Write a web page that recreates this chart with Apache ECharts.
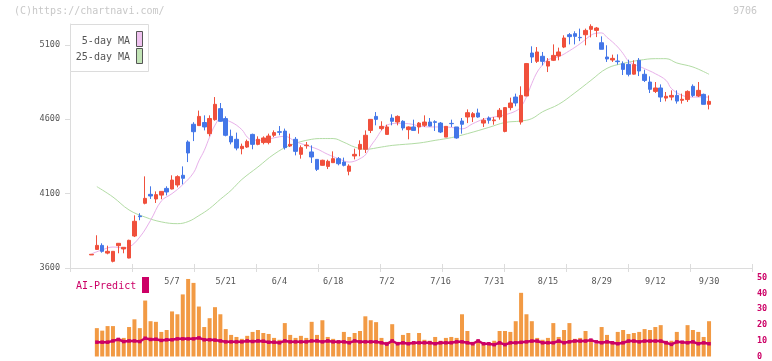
<!DOCTYPE html>
<html><head><meta charset="utf-8">
<script src="https://cdn.jsdelivr.net/npm/echarts@6/dist/echarts.min.js"></script>
<style>html,body{margin:0;padding:0;background:#fff}#c{width:772px;height:361px}</style>
</head><body><div id="c"></div>
<script>
// ---- data (candle index 0 .. 115) ----
const tickLabels = ['5/7','5/21','6/4','6/18','7/2','7/16','7/31','8/15','8/29','9/12','9/30'];
const tickCandles = [15,25,35,45,55,65,75,85,95,105,115];
// [open, close, low, high]
const candles = [
[3688,3692,3688,3692],[3725,3752,3722,3820],[3752,3712,3703,3766],[3700,3712,3692,3750],[3645,3712,3638,3712],
[3750,3766,3699,3768],[3728,3739,3699,3740],[3667,3786,3665,3790],[3815,3914,3808,3954],[3950,3945,3921,3968],
[4035,4068,4028,4216],[4095,4084,4064,4149],[4064,4093,4037,4115],[4090,4115,4062,4117],[4135,4111,4088,4149],
[4131,4191,4128,4223],[4158,4214,4142,4223],[4223,4203,4162,4283],[4447,4373,4312,4458],[4566,4516,4453,4580],
[4557,4619,4555,4658],[4578,4548,4525,4626],[4503,4605,4485,4626],[4597,4700,4590,4749],[4671,4586,4583,4709],
[4604,4492,4485,4619],[4485,4447,4431,4530],[4465,4406,4391,4510],[4402,4418,4364,4436],[4413,4451,4407,4463],
[4498,4431,4398,4503],[4431,4465,4425,4485],[4443,4474,4431,4485],[4443,4487,4431,4503],[4492,4510,4480,4525],
[4516,4512,4492,4554],[4520,4409,4396,4537],[4420,4431,4413,4503],[4465,4384,4357,4480],[4364,4409,4335,4424],
[4422,4426,4402,4447],[4380,4346,4306,4424],[4330,4263,4252,4330],[4290,4324,4288,4328],[4283,4317,4265,4328],
[4308,4335,4308,4384],[4335,4301,4290,4346],[4312,4290,4283,4342],[4250,4285,4223,4297],[4353,4364,4330,4402],
[4398,4431,4351,4458],[4398,4492,4373,4525],[4525,4599,4507,4600],[4619,4599,4559,4648],[4537,4552,4525,4586],
[4498,4548,4498,4563],[4608,4586,4559,4633],[4581,4619,4559,4626],[4586,4541,4525,4593],[4530,4548,4465,4552],
[4548,4525,4525,4597],[4548,4574,4503,4581],[4559,4581,4548,4626],[4581,4554,4552,4608],[4583,4579,4521,4593],
[4574,4514,4507,4581],[4480,4552,4480,4552],[4572,4570,4548,4597],[4548,4474,4469,4548],[4588,4566,4503,4608],
[4615,4644,4574,4666],[4615,4637,4581,4648],[4642,4615,4610,4671],[4574,4593,4548,4608],[4608,4593,4570,4619],
[4590,4595,4563,4615],[4615,4660,4597,4675],[4518,4678,4512,4680],[4678,4709,4660,4745],[4749,4709,4687,4772],
[4581,4760,4564,4821],[4756,4974,4756,4978],[5045,5018,4978,5090],[4989,5052,4978,5085],[5023,4989,4962,5052],
[4957,4989,4917,5011],[4996,5029,4991,5103],[5025,5052,4996,5081],[5085,5146,5078,5164],[5168,5155,5103,5179],
[5175,5157,5103,5191],[5150,5148,5125,5209],[5168,5197,5097,5209],[5204,5224,5150,5238],[5197,5213,5152,5220],
[5114,5070,5070,5157],[5018,5005,4985,5097],[4998,5009,4985,5034],[4991,4987,4967,5036],[4973,4935,4897,4989],
[4969,4902,4888,5000],[4903,4967,4900,4996],[4996,4924,4890,5011],[4902,4861,4850,4933],[4850,4801,4776,4888],
[4787,4810,4776,4850],[4810,4749,4716,4834],[4742,4754,4720,4783],[4749,4760,4727,4794],[4760,4722,4705,4794],
[4727,4734,4705,4772],[4732,4787,4716,4794],[4821,4760,4749,4834],[4756,4794,4749,4850],[4767,4700,4700,4772],
[4700,4720,4666,4760]
];
// [candle index, value]
const ma5 = [[0,3695],[2,3722],[4,3741],[6,3735],[7,3741],[9,3808],[11,3920],[13,4050],[15,4100],[17,4160],[19,4240],[20,4320],[21,4390],[22,4480],[23,4560],[24,4600],[26,4581],[28,4530],[29,4480],[30,4460],[32,4458],[34,4475],[36,4485],[38,4450],[40,4424],[42,4400],[44,4364],[46,4335],[48,4312],[49,4318],[50,4335],[51,4360],[52,4420],[53,4470],[54,4525],[55,4560],[57,4572],[59,4570],[61,4555],[63,4548],[65,4548],[67,4545],[69,4535],[71,4570],[73,4600],[75,4615],[77,4630],[79,4655],[80,4685],[81,4750],[82,4840],[83,4917],[84,4965],[85,5000],[87,5020],[89,5060],[91,5108],[93,5164],[94,5178],[95,5180],[96,5150],[97,5120],[98,5085],[99,5041],[100,4990],[101,4970],[103,4940],[105,4906],[107,4861],[108,4806],[110,4760],[112,4749],[115,4749]];
const ma25 = [[1,4147],[4,4077],[7,3990],[10,3942],[13,3910],[16,3898],[18,3912],[20,3952],[22,4000],[24,4062],[26,4122],[28,4195],[31,4279],[34,4365],[37,4425],[41,4465],[43,4470],[45,4470],[47,4445],[49,4413],[51,4398],[54,4413],[56,4424],[61,4440],[64,4458],[67,4476],[70,4503],[74,4545],[77,4578],[80,4588],[82,4604],[84,4650],[87,4700],[90,4777],[93,4861],[96,4942],[99,4975],[102,4996],[105,5007],[107,5007],[109,4978],[112,4951],[115,4902]];
const volume = [null,18.0,16.4,19.3,19.3,11.8,11.8,18.7,23.6,18.0,35.5,22.4,22.0,15.6,16.8,28.6,26.8,39.4,49.2,46.7,31.7,18.7,24.3,31.3,26.8,17.4,13.7,12.4,11.2,13.1,15.6,16.8,14.9,14.3,11.8,10.6,21.2,13.7,11.8,13.1,11.8,22.0,13.7,23.0,12.4,11.2,9.3,15.6,12.4,14.9,16.2,25.5,23.0,21.8,11.8,9.3,20.5,9.3,13.7,14.9,8.7,14.9,10.6,10.0,12.4,10.0,11.8,12.4,11.8,26.8,16.2,9.3,10.6,8.7,7.5,10.0,16.2,16.2,15.6,22.4,40.4,26.8,22.4,11.8,10.6,11.8,21.2,12.4,16.8,21.2,11.2,11.8,16.2,10.0,8.1,18.7,13.7,8.7,15.6,16.8,14.3,14.9,15.6,17.4,16.8,18.7,19.9,10.0,10.0,15.6,8.1,19.9,16.8,15.6,12.4,22.4];
const aiPredict = [null,9.1,9.1,9.1,9.9,10.8,9.5,9.9,9.9,9.5,11.6,10.8,11.0,10.2,10.6,10.6,11.2,11.2,11.2,11.2,11.8,10.6,10.6,10.4,9.9,9.3,9.3,9.3,9.3,9.9,9.5,9.9,9.7,9.1,9.1,8.7,9.9,9.3,9.3,9.3,9.3,9.9,9.9,9.3,9.9,9.3,9.3,9.3,8.7,9.9,9.3,9.3,9.3,9.3,8.7,7.9,9.9,8.1,8.7,8.1,8.7,8.7,8.7,8.7,8.1,8.7,8.7,8.7,9.3,9.3,8.7,8.1,9.9,8.1,8.1,7.5,8.7,7.5,8.7,8.7,9.0,9.3,9.8,9.8,8.7,8.7,8.7,9.8,8.7,9.3,9.8,9.8,9.8,10.4,9.3,8.7,9.3,8.7,8.1,8.7,9.8,9.8,9.3,9.8,9.8,9.8,9.8,8.7,7.7,9.3,9.1,8.7,9.3,8.1,8.7,8.1];
const yTicks = [3600,4100,4600,5100];
const volTicks = [0,10,20,30,40,50];

// ---- layout helpers ----
const LEAD = 4, SLOTS = 128;
const categories = [];
for (let k = 0; k < SLOTS; k++) {
  const t = tickCandles.indexOf(k - LEAD);
  categories.push(t >= 0 ? tickLabels[t] : 's' + k);
}
const labelSlots = tickCandles.map(c => c + LEAD);

const candleData = candles.map((c, i) => [i + LEAD, c[0], c[1], c[2], c[3]]);
const pairs = arr => arr.map(p => [p[0] + LEAD, p[1]]);
const seq = arr => arr.map((v, i) => [i + LEAD, v]).filter(p => p[1] != null);

const UP = '#f0503c', DOWN = '#4477e8', AXIS = '#dcdcdc', TXT = '#555', CRIM = '#cc0066';
const MONO = '"DejaVu Sans Mono", monospace';

const chart = echarts.init(document.getElementById('c'), null, {renderer: 'canvas'});
chart.setOption({
  animation: false,
  backgroundColor: '#fff',
  grid: [
    {left: 70, top: 24, width: 682, height: 244},
    {left: 70, top: 277.7, width: 682, height: 80.3}
  ],
  xAxis: [
    {type: 'category', gridIndex: 0, position: 'bottom', data: categories, boundaryGap: false,
     axisLine: {lineStyle: {color: AXIS, width: 1}}, axisTick: {show: false},
     axisLabel: {interval: (idx) => labelSlots.indexOf(idx) >= 0, formatter: v => v.indexOf('/') > 0 ? v : '',
       color: TXT, fontSize: 8.5, fontFamily: MONO, margin: 9},
     splitLine: {show: false}},
    {type: 'value', gridIndex: 0, position: 'bottom', min: 0, max: 11, interval: 1, offset: -4,
     axisLine: {show: false}, axisTick: {show: true, length: 8, lineStyle: {color: AXIS}},
     axisLabel: {show: false}, splitLine: {show: false}},
    {type: 'category', gridIndex: 1, data: categories, boundaryGap: false, show: false}
  ],
  yAxis: [
    {type: 'value', gridIndex: 0, min: 3600, max: 5240, interval: 500,
     axisLine: {show: true, lineStyle: {color: AXIS}},
     axisTick: {show: true, length: 5, lineStyle: {color: AXIS}, customValues: yTicks},
     axisLabel: {color: TXT, fontSize: 8.5, fontFamily: MONO, margin: 10, customValues: yTicks, formatter: v => String(v)},
     splitLine: {show: false}},
    {type: 'value', gridIndex: 1, position: 'right', min: 0, max: 50, interval: 10,
     axisLine: {show: false}, axisTick: {show: false},
     axisLabel: {color: CRIM, fontSize: 8.5, fontWeight: 'bold', fontFamily: MONO, margin: 5, customValues: volTicks, formatter: v => String(v)},
     splitLine: {show: false}}
  ],
  series: [
    {type: 'line', xAxisIndex: 0, yAxisIndex: 0, data: pairs(ma25), smooth: 0.4, showSymbol: false,
     lineStyle: {color: '#b2dca4', width: 1}, z: 1},
    {type: 'line', xAxisIndex: 0, yAxisIndex: 0, data: pairs(ma5), smooth: 0.4, showSymbol: false,
     lineStyle: {color: '#e8b0ea', width: 1}, z: 1},
    {type: 'candlestick', xAxisIndex: 0, yAxisIndex: 0, data: candleData, barWidth: 4,
     encode: {x: 0, y: [1, 2, 3, 4]},
     itemStyle: {color: UP, color0: DOWN, borderColor: UP, borderColor0: DOWN, borderWidth: 1}, z: 3},
    {type: 'bar', xAxisIndex: 2, yAxisIndex: 1, data: seq(volume), barWidth: 4,
     itemStyle: {color: '#f29a44'}},
    {type: 'line', xAxisIndex: 2, yAxisIndex: 1, data: seq(aiPredict), symbol: 'rect', symbolSize: 3.5,
     itemStyle: {color: CRIM}, lineStyle: {color: CRIM, width: 2.5}, z: 4}
  ],
  graphic: [
    {type: 'text', left: 14, top: 6, style: {text: '(C)https://chartnavi.com/', fill: '#c8c8c8', font: '10px ' + MONO}},
    {type: 'text', right: 15, top: 6, style: {text: '9706', fill: '#c8c8c8', font: '10px ' + MONO}},
    {type: 'rect', shape: {x: 70.5, y: 24.5, width: 78, height: 47}, style: {fill: '#fff', stroke: '#dcdcdc', lineWidth: 1}, z: 10},
    {type: 'text', x: 130, y: 41, style: {text: '5-day MA', fill: TXT, font: '10px ' + MONO, align: 'right', verticalAlign: 'middle'}, z: 11},
    {type: 'text', x: 130, y: 57, style: {text: '25-day MA', fill: TXT, font: '10px ' + MONO, align: 'right', verticalAlign: 'middle'}, z: 11},
    {type: 'rect', shape: {x: 136.5, y: 31.5, width: 6, height: 15}, style: {fill: '#efc2ef', stroke: '#555', lineWidth: 1}, z: 11},
    {type: 'rect', shape: {x: 136.5, y: 48.5, width: 6, height: 15}, style: {fill: '#c2e4b6', stroke: '#555', lineWidth: 1}, z: 11},
    {type: 'text', x: 76, y: 286, style: {text: 'AI-Predict', fill: CRIM, font: '10px ' + MONO, verticalAlign: 'middle'}, z: 11},
    {type: 'rect', shape: {x: 142, y: 277, width: 7, height: 16}, style: {fill: CRIM}, z: 11}
  ]
});
</script></body></html>
